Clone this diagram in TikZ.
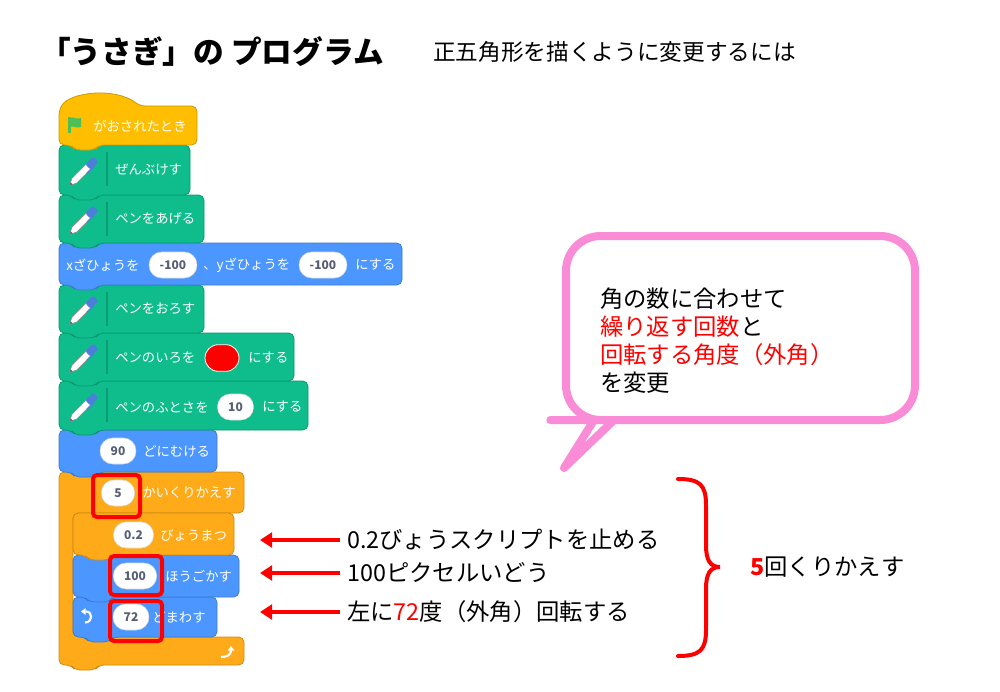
\documentclass[tikz,border=0pt]{standalone}
\usepackage{fontspec}
\setmainfont{Noto Sans CJK JP}
\usetikzlibrary{arrows.meta}

\definecolor{hatyellow}{HTML}{FFBF00}
\definecolor{pengreen}{HTML}{0FBD8C}
\definecolor{penline}{HTML}{0B9C72}
\definecolor{motionblue}{HTML}{4C97FF}
\definecolor{controlorange}{HTML}{FFAB19}
\definecolor{slotgray}{HTML}{575E75}
\definecolor{flaggreen}{HTML}{4CBF56}
\definecolor{penblue}{HTML}{4C7FD9}
\definecolor{calloutpink}{RGB}{250,140,215}

\newcommand{\stackblock}[5]{%
  \filldraw[fill=#1, draw=#1!80!black, line width=0.6pt, rounded corners=4]
    (#2,#3) -- (#4,#3) -- (#4,#5) -- (#2+40,#5) -- (#2+36,#5+5)
    -- (#2+16,#5+5) -- (#2+12,#5) -- (#2,#5) -- cycle;}
\newcommand{\penicon}[2]{%
  \begin{scope}[shift={(#1,#2)}, rotate=45]
    \filldraw[fill=white, draw=black!45, line width=0.5pt]
      (-19,0) -- (-12,-3.5) -- (9,-3.5) -- (9,3.5) -- (-12,3.5) -- cycle;
    \fill[black!60] (-19,0) -- (-16,-1.4) -- (-16,1.4) -- cycle;
    \fill[penblue, rounded corners=1.5pt] (7,-3.8) rectangle (18,3.8);
    \draw[penblue, line width=1pt] (2,3.8) -- (12,3.8);
  \end{scope}}

\tikzset{
  blocktext/.style={text=white, font=\fontsize{10}{12}\selectfont, inner sep=0pt, anchor=west},
  slot/.style={draw=black!15, fill=white, rounded corners=9.5pt, minimum height=19.5pt,
    minimum width=25pt, inner xsep=8pt, inner ysep=0pt, text=slotgray,
    font=\bfseries\fontsize{9}{10}\selectfont},
  redbox/.style={draw=red, line width=3pt, rounded corners=3pt},
  note/.style={font=\fontsize{17.5}{21}\selectfont, anchor=west, inner sep=0pt},
  redarrow/.style={draw=red, line width=3pt, shorten <=5pt, -{Triangle[length=9pt,width=11pt]}},
  callout/.style={draw=calloutpink, fill=white, line width=6pt, line join=round},
  icon/.style={white, line width=1.6pt},
}

\begin{document}
\begin{tikzpicture}[x=0.75pt, y=-0.75pt]
  \useasboundingbox (0,0) rectangle (1000,692);
  \fill[white] (0,0) rectangle (1000,692);

  \node[font=\bfseries\fontsize{23}{26}\selectfont, anchor=west, inner sep=0pt] (title) at (40,52) {「うさぎ」の プログラム};
  \node[font=\fontsize{17}{20}\selectfont, anchor=west, inner sep=0pt] (subtitle) at (433,52) {正五角形を描くように変更するには};

  % blocks, lowest first so each tab lies on the block under it
  \filldraw[fill=controlorange, draw=controlorange!80!black, line width=0.6pt, rounded corners=4]
    (59,472) -- (244,472) -- (244,513) -- (73,513) -- (73,637) -- (244,637) -- (244,665)
    -- (99,665) -- (95,670) -- (75,670) -- (71,665) -- (59,665) -- cycle;
  \stackblock{motionblue}{73}{597}{217}{637}
  \stackblock{motionblue}{73}{555}{239}{597}
  \stackblock{controlorange}{73}{513}{234}{555}
  \stackblock{motionblue}{59}{430}{217}{472}
  \stackblock{pengreen}{59}{381}{308}{430}
  \stackblock{pengreen}{59}{333}{294}{381}
  \stackblock{pengreen}{59}{285}{204}{333}
  \stackblock{motionblue}{59}{243}{402}{285}
  \stackblock{pengreen}{59}{195}{204}{243}
  \stackblock{pengreen}{59}{145}{190}{195}
  \filldraw[fill=hatyellow, draw=hatyellow!80!black, line width=0.6pt, rounded corners=4]
    (59,145) -- (59,110) .. controls (70,92) and (115,87) .. (140,106) -- (197,106)
    -- (197,145) -- (99,145) -- (95,150) -- (75,150) -- (71,145) -- cycle;

  \fill[flaggreen] (68,117) rectangle (70.5,133);
  \fill[flaggreen] (70,118) .. controls (73,116) and (77,120) .. (81,118) -- (81,127)
    .. controls (77,129) and (73,125) .. (70,127) -- cycle;
  \foreach \y in {145,195,285,333,381} {
    \draw[penline, line width=0.8pt] (107,\y+7) -- (107,\y+41);
  }
  \penicon{83}{172}
  \penicon{83}{221}
  \penicon{83}{311}
  \penicon{83}{359}
  \penicon{83}{408}

  \node[blocktext] (hat) at (93,126) {がおされたとき};
  \node[blocktext] (clear) at (115,170) {ぜんぶけす};
  \node[blocktext] (penup) at (115,219) {ペンをあげる};
  \node[blocktext] (gotox) at (66,265) {xざひょうを};
  \node[slot] (xval) at (173,265) {-100};
  \node[blocktext] (gotoy) at (203,265) {、yざひょうを};
  \node[slot] (yval) at (323,265) {-100};
  \node[blocktext] (gotoset) at (355,265) {にする};
  \node[blocktext] (pendown) at (115,309) {ペンをおろす};
  \node[blocktext] (pencolor) at (115,358) {ペンのいろを};
  \node[draw=white, fill=red, line width=0.6pt, minimum width=25.5pt, minimum height=20pt,
    rounded corners=10pt] (colorval) at (222,358) {};
  \node[blocktext] (colorset) at (248,358) {にする};
  \node[blocktext] (pensize) at (115,407) {ペンのふとさを};
  \node[slot] (sizeval) at (235.5,407) {10};
  \node[blocktext] (sizeset) at (262,407) {にする};
  \node[slot] (dirval) at (118,451) {90};
  \node[blocktext] (dir) at (143,451) {どにむける};
  \node[slot] (repval) at (118,493) {5};
  \node[blocktext] (rep) at (142,493) {かいくりかえす};
  \node[slot] (waitval) at (133.5,535) {0.2};
  \node[blocktext] (wait) at (160,535) {びょうまつ};
  \node[slot] (moveval) at (135,576) {100};
  \node[blocktext] (move) at (165,576) {ほうごかす};
  \node[slot] (turnval) at (131,617) {72};
  \node[blocktext] (turn) at (152,617) {どまわす};

  \draw[icon, {Triangle[length=3.5pt,width=5pt]}-] (81,611.5) -- (86,611.5)
    .. controls (93,611.5) and (93,622.5) .. (85,622.5);
  \draw[icon, -{Triangle[length=3.5pt,width=5pt]}] (221,657) .. controls (227,657) and (231,655) .. (231,646);

  \draw[redbox] (93,475) rectangle (140,517);
  \draw[redbox] (110,556) rectangle (162,595);
  \draw[redbox] (110,601) rectangle (162,641);

  % callout
  \draw[callout] (564,468) -- (614,420) -- (625,420) [rounded corners=26pt] -- (915,420)
    -- (915,236) -- (566,236) -- (566,420) -- (585,420) [sharp corners] -- (594,420) -- cycle;
  \node[note, align=left] (calltext) at (600,341) {角の数に合わせて\\{\color{red}繰り返す回数}と\\{\color{red}回転する角度（外角）}\\を変更};

  \node[note] (waitnote) at (347,540) {0.2びょうスクリプトを止める};
  \node[note] (movenote) at (347,573) {100ピクセルいどう};
  \node[note] (turnnote) at (347,612) {左に{\color{red}72}度（外角）回転する};
  \coordinate (waitend) at (260,540);
  \coordinate (moveend) at (260,573);
  \coordinate (turnend) at (260,612);
  \draw[redarrow] (waitnote.west) -- (waitend);
  \draw[redarrow] (movenote.west) -- (moveend);
  \draw[redarrow] (turnnote.west) -- (turnend);

  \draw[red, line width=3pt, line cap=round] (678,479) .. controls (700,479) and (706,485) .. (706,505)
    -- (706,545) .. controls (706,560) and (710,567) .. (720,567)
    .. controls (710,567) and (706,574) .. (706,589) -- (706,630)
    .. controls (706,650) and (700,656) .. (678,656);
  \node[note] (repnote) at (750,567) {{\color{red}\bfseries 5}回くりかえす};
\end{tikzpicture}
\end{document}
